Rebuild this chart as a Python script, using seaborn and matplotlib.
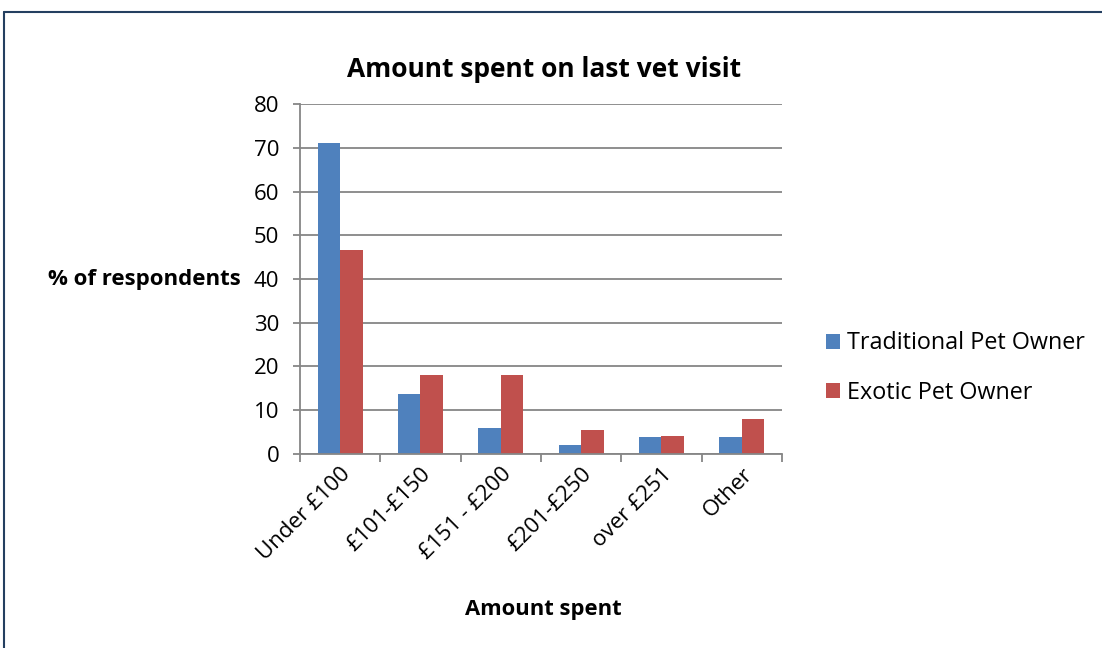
import matplotlib
matplotlib.use("Agg")
import matplotlib.pyplot as plt
import seaborn as sns
import pandas as pd
import numpy as np
from matplotlib.lines import Line2D
from matplotlib.ticker import FixedLocator

categories = ["Under £100", "£101-£150", "£151 - £200", "£201-£250", "over £251", "Other"]
traditional = [71, 13.6, 5.9, 2.0, 3.9, 3.9]
exotic = [46.6, 18.0, 18.0, 5.4, 4.1, 8.0]
series_names = ["Traditional Pet Owner", "Exotic Pet Owner"]
colors = ["#4F81BD", "#C0504D"]
yticks = [0, 10, 20, 30, 40, 50, 60, 70, 80]

df = pd.DataFrame({
    "Amount": categories * 2,
    "Series": [series_names[0]] * len(categories) + [series_names[1]] * len(categories),
    "Value": traditional + exotic,
})

sns.set_theme(style="white")
plt.rcParams["font.family"] = ["Open Sans", "DejaVu Sans"]
plt.rcParams["text.color"] = "black"

fig = plt.figure(figsize=(11.02, 6.48), dpi=100)
ax = fig.add_axes([0.2722, 0.2994, 0.4374, 0.5401])

sns.barplot(data=df, x="Amount", y="Value", hue="Series", palette=colors,
            width=0.56, saturation=1, ax=ax, legend=True, edgecolor="none")

ax.set_ylim(0, 80)
ax.set_xlim(-0.5, len(categories) - 0.5)
ax.set_yticks(yticks)
ax.yaxis.grid(True, color="#868686", linewidth=1.3)
ax.set_axisbelow(True)
for s in ["top", "right"]:
    ax.spines[s].set_visible(False)
for s in ["left", "bottom"]:
    ax.spines[s].set_color("#868686")
    ax.spines[s].set_linewidth(1.3)

ax.tick_params(axis="y", which="major", length=5, width=1.3, color="#868686",
               labelsize=16, labelcolor="black", direction="out", left=True, pad=10)
ax.tick_params(axis="x", which="major", length=0, labelsize=16, labelcolor="black", pad=7)
ax.xaxis.set_minor_locator(FixedLocator(np.arange(-0.5, len(categories), 1.0)))
ax.tick_params(axis="x", which="minor", length=6, width=1.3, color="#868686",
               direction="out", bottom=True)
ax.set_xticks(range(len(categories)))
ax.set_xticklabels(categories, rotation=45, ha="right", rotation_mode="anchor")

ax.set_xlabel("")
ax.set_ylabel("")
fig.text(0.4927, 0.059, "Amount spent", ha="center", va="center",
         fontsize=15.8, fontweight="bold")
fig.text(0.2185, 0.568, "% of respondents", ha="right", va="center",
         fontsize=16, fontweight="bold")
fig.text(0.4936, 0.893, "Amount spent on last vet visit", ha="center", va="center",
         fontsize=19, fontweight="bold")

leg = ax.legend(loc="center left", bbox_to_anchor=(1.091, 0.245), frameon=False,
                fontsize=16.8, handlelength=0.62, handleheight=0.62, handletextpad=0.3,
                labelspacing=1.1, borderaxespad=0, borderpad=0)

# outer frame
fig.add_artist(Line2D([4 / 1102, 4 / 1102], [0, 1 - 12 / 648], transform=fig.transFigure,
                      color="#243F60", linewidth=1.5))
fig.add_artist(Line2D([4 / 1102, 1], [1 - 12 / 648, 1 - 12 / 648], transform=fig.transFigure,
                      color="#243F60", linewidth=1.5))

fig.savefig("out.png", dpi=100, facecolor="white")
